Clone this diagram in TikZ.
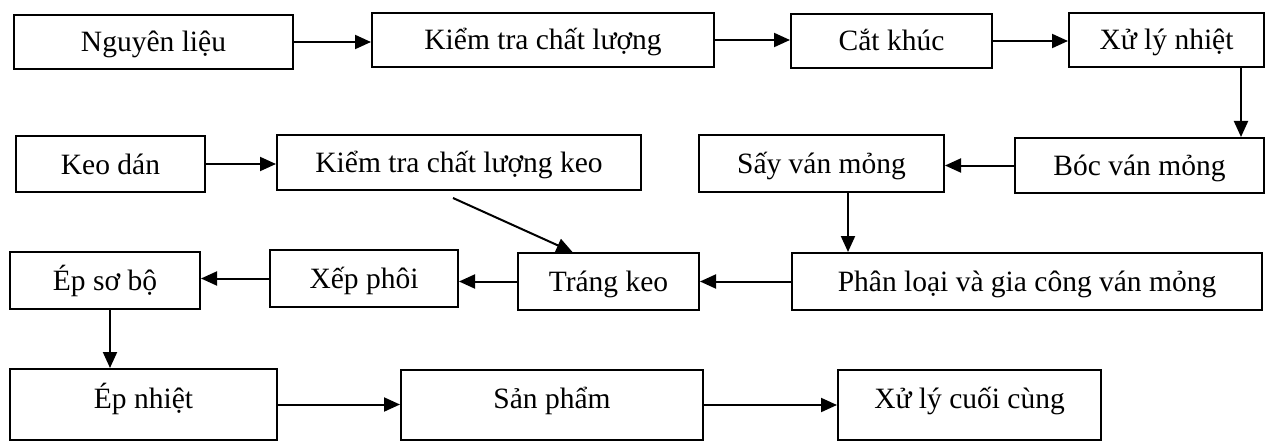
\documentclass[tikz,border=0pt]{standalone}
\usepackage{fontspec}
\setmainfont{Liberation Serif}
\usepackage{tikz}
\usetikzlibrary{arrows.meta,positioning,calc}

\begin{document}
\begin{tikzpicture}[
  x=1pt,y=-1pt,
  wire/.style={-{Triangle[length=16pt,width=14pt]},line width=2pt},
  box/.style={draw,line width=2pt,minimum height=54pt,inner sep=0pt,
              text height=27pt,text depth=7pt},
  lowbox/.style={box,text height=27pt,text depth=20pt},
  every node/.style={font=\fontsize{29.5}{33}\selectfont}
]
\useasboundingbox (0,0) rectangle (1266,441);
% Row 1: raw wood
\node[box,minimum width=279pt] (nl) at (153.5,42) {Nguyên liệu};
\node[box,minimum width=342pt] (kt) at (543,40) {Kiểm tra chất lượng};
\node[box,minimum width=201pt] (ck) at (891.5,41) {Cắt khúc};
\node[box,minimum width=195pt] (xl) at (1166.5,40) {Xử lý nhiệt};
\draw[wire] (nl.east) -- (nl.east -| kt.west);
\draw[wire] (kt.east) -- (kt.east -| ck.west);
\draw[wire] (ck.east) -- (ck.east -| xl.west);

% Row 2: glue and veneer
\node[box,minimum width=189pt,minimum height=56pt] (keo) at (110.5,164) {Keo dán};
\node[box,minimum width=364pt,minimum height=55pt] (ktk) at (459,162.5) {Kiểm tra chất lượng keo};
\node[box,minimum width=245pt,minimum height=57pt] (say) at (821.5,163.5) {Sấy ván mỏng};
\node[box,minimum width=249pt,minimum height=55pt] (boc) at (1139.5,165.5) {Bóc ván mỏng};
\draw[wire] ([xshift=-24pt]xl.south east) -- ([xshift=-24pt]xl.south east |- boc.north);
\draw[wire] (keo.east) -- (keo.east -| ktk.west);
\draw[wire] (boc.west) -- (boc.west -| say.east);

% Row 3: gluing and lay-up
\node[box,minimum width=190pt,minimum height=57pt] (esb) at (105,280.5) {Ép sơ bộ};
\node[box,minimum width=188pt,minimum height=57pt] (xp) at (364,278.5) {Xếp phôi};
\node[box,minimum width=181pt,minimum height=57pt] (tk) at (608.5,281.5) {Tráng keo};
\node[box,minimum width=470pt,minimum height=57pt] (pl) at (1027,281.5) {Phân loại và gia công ván mỏng};
\draw[wire] ([xshift=26.5pt]say.south) -- ([xshift=26.5pt]say.south |- pl.north);
\draw[wire] ([xshift=-6pt,yshift=-7pt]ktk.south) -- ([xshift=-36pt]tk.north);
\draw[wire] (pl.west) -- (pl.west -| tk.east);
\draw[wire] (tk.west) -- (tk.west -| xp.east);
\draw[wire] (xp.west) -- (xp.west -| esb.east);

% Row 4: pressing and finishing
\node[lowbox,minimum width=267pt,minimum height=71pt] (en) at (143.5,404.5) {Ép nhiệt};
\node[lowbox,minimum width=302pt,minimum height=70pt] (sp) at (552,405) {Sản phẩm};
\node[lowbox,minimum width=263pt,minimum height=70pt] (xc) at (969.5,405) {Xử lý cuối cùng};
\draw[wire] ([xshift=5pt]esb.south) -- ([xshift=5pt]esb.south |- en.north);
\draw[wire] (en.east) -- (en.east -| sp.west);
\draw[wire] (sp.east) -- (sp.east -| xc.west);
\end{tikzpicture}
\end{document}
